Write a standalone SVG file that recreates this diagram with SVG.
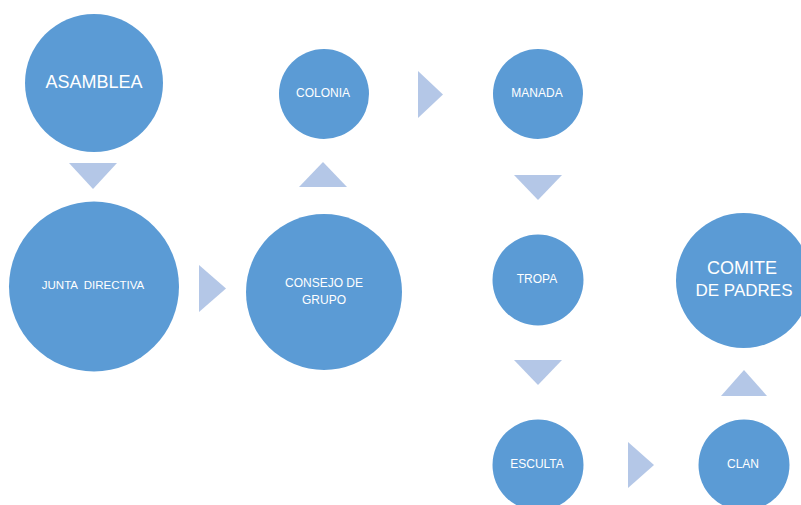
<svg xmlns="http://www.w3.org/2000/svg" width="801" height="505" viewBox="0 0 801 505">
<style>
.n{fill:#5B9BD5}
.a{fill:#B4C7E7}
text{fill:#FFFFFF;font-family:"Liberation Sans",Arial,sans-serif;text-anchor:middle;dominant-baseline:central}
.s{font-size:12px}
.l{font-size:18px}
</style>
<rect width="801" height="505" fill="#FFFFFF"/>
<g id="connectors">
<polygon class="a" points="69,163 117,163 93,189"/>
<polygon class="a" points="199,265 226,288.5 199,312"/>
<polygon class="a" points="299,187 347,187 323,162"/>
<polygon class="a" points="418,71 443,94.5 418,118"/>
<polygon class="a" points="514,175 562,175 538,200"/>
<polygon class="a" points="514,360 562,360 538,385"/>
<polygon class="a" points="628,442 654,465 628,488"/>
<polygon class="a" points="721,396 767,396 744,370"/>
</g>
<g id="asamblea"><circle class="n" cx="94" cy="83" r="69"/><text class="l" x="94" y="82">ASAMBLEA</text></g>
<g id="junta"><circle class="n" cx="94" cy="286.5" r="85"/><text class="s" x="93" y="285" xml:space="preserve" style="font-size:11.5px">JUNTA  DIRECTIVA</text></g>
<g id="consejo"><circle class="n" cx="324" cy="292" r="78"/><text class="s" x="324" y="283">CONSEJO DE</text><text class="s" x="324" y="300">GRUPO</text></g>
<g id="colonia"><circle class="n" cx="324" cy="94" r="45"/><text class="s" x="323" y="93">COLONIA</text></g>
<g id="manada"><circle class="n" cx="538" cy="94" r="45"/><text class="s" x="537" y="93">MANADA</text></g>
<g id="tropa"><circle class="n" cx="538" cy="280" r="45.5"/><text class="s" x="537" y="279">TROPA</text></g>
<g id="esculta"><circle class="n" cx="538" cy="465" r="45.5"/><text class="s" x="537" y="464">ESCULTA</text></g>
<g id="clan"><circle class="n" cx="744" cy="465" r="45.5"/><text class="s" x="743" y="464">CLAN</text></g>
<g id="comite"><circle class="n" cx="743.5" cy="280.5" r="67.5"/><text class="l" x="742" y="268">COMITE</text><text class="l" x="744" y="290" style="font-size:17px">DE PADRES</text></g>
</svg>
